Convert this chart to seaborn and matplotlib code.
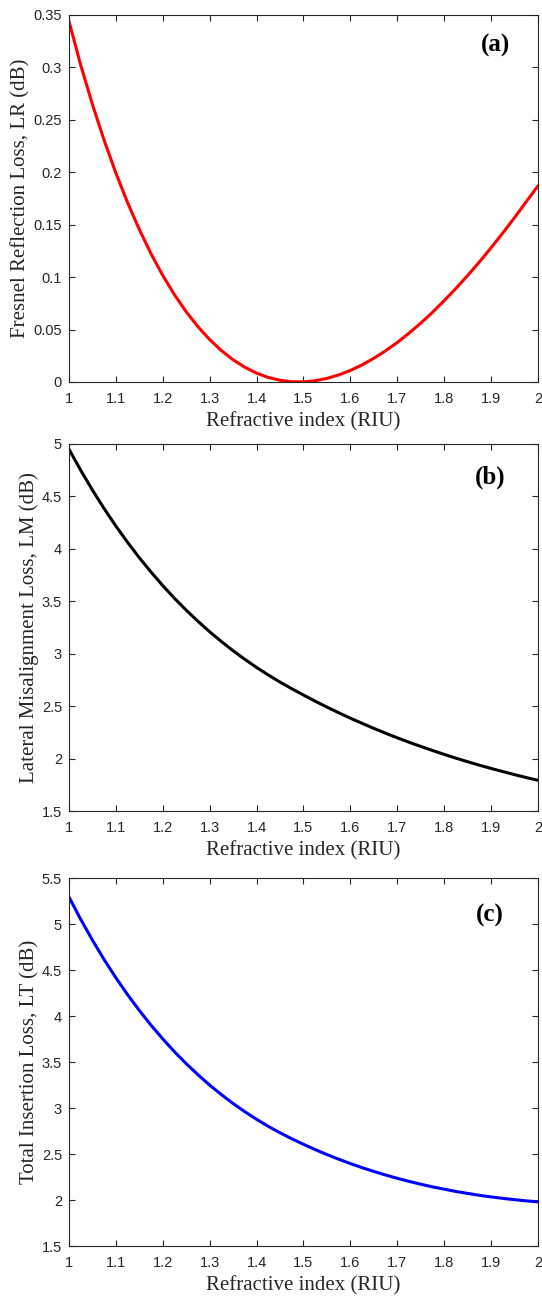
import matplotlib
matplotlib.use('Agg')
import matplotlib.pyplot as plt
import seaborn as sns

# refractive index samples (RIU)
n_riu = [1.000, 1.025, 1.050, 1.075, 1.100, 1.125, 1.150, 1.175, 1.200, 1.225,
         1.250, 1.275, 1.300, 1.325, 1.350, 1.375, 1.400, 1.425, 1.450, 1.475,
         1.500, 1.525, 1.550, 1.575, 1.600, 1.625, 1.650, 1.675, 1.700, 1.725,
         1.750, 1.775, 1.800, 1.825, 1.850, 1.875, 1.900, 1.925, 1.950, 1.975, 2.000]

# (a) Fresnel reflection loss, dB
loss_lr = [0.3440, 0.3021, 0.2646, 0.2304, 0.1992, 0.1709, 0.1453, 0.1222, 0.1015, 0.0831,
           0.0669, 0.0527, 0.0404, 0.0299, 0.0211, 0.0140, 0.0084, 0.0043, 0.0016, 0.0002,
           0.0001, 0.0012, 0.0034, 0.0067, 0.0110, 0.0163, 0.0226, 0.0297, 0.0377, 0.0465,
           0.0561, 0.0664, 0.0775, 0.0892, 0.1015, 0.1144, 0.1280, 0.1421, 0.1567, 0.1719, 0.1870]
# (b) lateral misalignment loss, dB
loss_lm = [4.950, 4.749, 4.560, 4.383, 4.217, 4.061, 3.915, 3.778, 3.649, 3.528,
           3.415, 3.309, 3.209, 3.116, 3.028, 2.946, 2.869, 2.797, 2.729, 2.666,
           2.606, 2.547, 2.491, 2.437, 2.385, 2.336, 2.288, 2.242, 2.198, 2.156,
           2.116, 2.077, 2.040, 2.004, 1.970, 1.937, 1.906, 1.876, 1.847, 1.819, 1.793]
# (c) total insertion loss, dB
loss_lt = [5.294, 5.051, 4.825, 4.613, 4.416, 4.232, 4.060, 3.900, 3.751, 3.611,
           3.482, 3.362, 3.249, 3.146, 3.049, 2.960, 2.877, 2.801, 2.731, 2.666,
           2.606, 2.548, 2.494, 2.444, 2.396, 2.352, 2.311, 2.272, 2.236, 2.203,
           2.172, 2.143, 2.118, 2.093, 2.072, 2.051, 2.034, 2.018, 2.004, 1.991, 1.980]

x_ticks = [1, 1.1, 1.2, 1.3, 1.4, 1.5, 1.6, 1.7, 1.8, 1.9, 2]
x_ticklabels = ['1', '1.1', '1.2', '1.3', '1.4', '1.5', '1.6', '1.7', '1.8', '1.9', '2']
lr_ticks = [0, 0.05, 0.1, 0.15, 0.2, 0.25, 0.3, 0.35]
lr_ticklabels = ['0', '0.05', '0.1', '0.15', '0.2', '0.25', '0.3', '0.35']
lm_ticks = [1.5, 2, 2.5, 3, 3.5, 4, 4.5, 5]
lm_ticklabels = ['1.5', '2', '2.5', '3', '3.5', '4', '4.5', '5']
lt_ticks = [1.5, 2, 2.5, 3, 3.5, 4, 4.5, 5, 5.5]
lt_ticklabels = ['1.5', '2', '2.5', '3', '3.5', '4', '4.5', '5', '5.5']

sns.set_theme(style='ticks')
plt.rcParams['font.family'] = ['Liberation Sans', 'DejaVu Sans']

fig = plt.figure(figsize=(5.42, 12.97), dpi=100)

panels = [
    # rect, y values, colour, ylabel, yticks, yticklabels, ylim, tag, tag pos, ylabel x
    ([0.1273, 0.7055, 0.8653, 0.2830], loss_lr, '#ff0000', 'Fresnel Reflection Loss, LR (dB)',
     lr_ticks, lr_ticklabels, (0, 0.35), '(a)', (0.910, 0.918), -0.083),
    ([0.1273, 0.3747, 0.8653, 0.2830], loss_lm, '#000000', 'Lateral Misalignment Loss, LM (dB)',
     lm_ticks, lm_ticklabels, (1.5, 5), '(b)', (0.898, 0.910), -0.063),
    ([0.1273, 0.0393, 0.8653, 0.2837], loss_lt, '#0000ff', 'Total Insertion Loss, LT (dB)',
     lt_ticks, lt_ticklabels, (1.5, 5.5), '(c)', (0.898, 0.899), -0.063),
]

for rect, vals, col, ylab, yt, ytl, ylim, tag, tagpos, ylx in panels:
    ax = fig.add_axes(rect)
    sns.lineplot(x=n_riu, y=vals, ax=ax, color=col, linewidth=2.2)
    ax.set_xlim(1, 2)
    ax.set_ylim(*ylim)
    ax.set_xticks(x_ticks)
    ax.set_xticklabels(x_ticklabels)
    ax.set_yticks(yt)
    ax.set_yticklabels(ytl)
    ax.tick_params(direction='in', top=True, right=True, length=4, width=0.8,
                   labelsize=10.5, colors='#262626')
    ax.tick_params(axis='x', pad=7)
    ax.tick_params(axis='y', pad=5)
    for sp in ax.spines.values():
        sp.set_color('#262626')
        sp.set_linewidth(0.8)
    ax.set_xlabel('Refractive index (RIU)', family='Liberation Serif', fontsize=15, color='#262626')
    ax.set_ylabel(ylab, family='Liberation Serif', fontsize=15, color='#262626')
    ax.xaxis.set_label_coords(0.5, -0.082)
    ax.yaxis.set_label_coords(ylx, 0.5)
    ax.text(tagpos[0], tagpos[1], tag, transform=ax.transAxes, ha='center', va='center',
            family='Liberation Serif', fontweight='bold', fontsize=18, color='#000000')

fig.savefig('out.png', dpi=100)
